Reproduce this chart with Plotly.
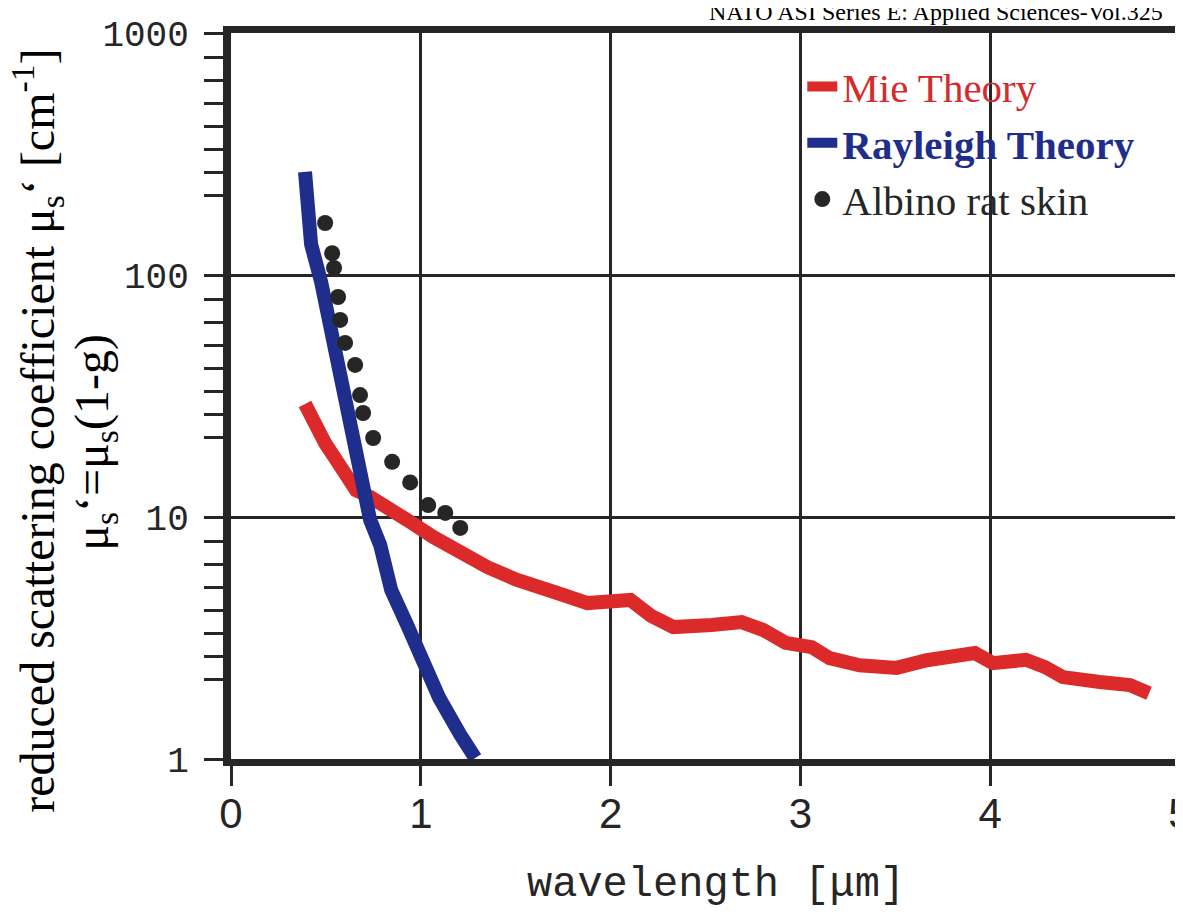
import plotly.graph_objects as go

# ---- data ----
mie_wavelength = [0.390, 0.443, 0.496, 0.559, 0.617, 0.659, 0.733, 0.812, 0.928, 1.065, 1.192,
                  1.350, 1.508, 1.630, 1.751, 1.878, 2.015, 2.104, 2.215, 2.331, 2.532, 2.690,
                  2.806, 2.922, 3.059, 3.154, 3.312, 3.507, 3.666, 3.819, 3.919, 4.014, 4.114,
                  4.188, 4.288, 4.383, 4.578, 4.736, 4.837]
mie_mus = [29.3, 24.0, 20.2, 17.0, 14.5, 12.9, 12.1, 11.2, 9.72, 8.27, 7.17,
           6.21, 5.49, 5.19, 4.76, 4.41, 4.41, 4.54, 3.90, 3.51, 3.58, 3.68,
           3.41, 3.02, 2.90, 2.61, 2.44, 2.38, 2.56, 2.69, 2.74, 2.49, 2.49,
           2.57, 2.40, 2.18, 2.08, 2.02, 1.87]

rayleigh_wavelength = [0.390, 0.401, 0.422, 0.475, 0.527, 0.570, 0.633, 0.691, 0.733, 0.786,
                       0.844, 0.928, 1.002, 1.097, 1.208, 1.287]
rayleigh_mus = [266.6, 182, 134, 93.5, 59.3, 35.5, 22.9, 13.7, 9.72, 7.66,
                4.99, 3.58, 2.57, 1.79, 1.26, 1.01]

skin_wavelength = [0.496, 0.533, 0.543, 0.564, 0.575, 0.601, 0.654, 0.680, 0.696, 0.749,
                   0.849, 0.944, 1.039, 1.129, 1.208]
skin_mus = [164, 123, 107, 81.1, 65.2, 52.4, 42.5, 31.9, 26.9, 21.2,
            16.9, 13.9, 11.2, 10.4, 9.01]

x_tick_vals = [0, 1, 2, 3, 4, 5]
x_tick_text = ["0", "1", "2", "3", "4", "5"]
y_tick_vals = [1, 10, 100, 1000]
y_tick_text = ["1", "10", "100", "1000"]
y_minor_vals = [2.14, 2.66, 3.31, 4.12, 5.13, 6.38, 7.94,
                21.4, 26.6, 33.1, 41.2, 51.3, 63.8, 79.4,
                214, 266, 331, 412, 513, 638, 794]

INK = "#262626"
RED = "#dc2a2a"
NAVY = "#1f2d8c"

fig = go.Figure()
fig.add_trace(go.Scatter(
    x=mie_wavelength, y=mie_mus, mode="lines",
    line=dict(color=RED, width=14),
    name="<span style='color:#d42b2b'>Mie Theory</span>",
    legendgroup="a"))
fig.add_trace(go.Scatter(
    x=rayleigh_wavelength, y=rayleigh_mus, mode="lines",
    line=dict(color=NAVY, width=14),
    name="<span style='color:#1f2d8c'><b>Rayleigh Theory</b></span>",
    legendgroup="b"))
fig.add_trace(go.Scatter(
    x=skin_wavelength, y=skin_mus, mode="markers",
    marker=dict(color=INK, size=16, symbol="circle"),
    name="<span style='color:#262626'>Albino rat skin</span>",
    legendgroup="c"))

# the page body has an 8 px default margin: the figure is sized/margined so the
# plot area lands at x 231..1180, y 33..759 of the window
fig.update_layout(
    width=1175, height=913,
    margin=dict(l=223, r=3, t=25, b=162),
    paper_bgcolor="white", plot_bgcolor="white",
    showlegend=True,
    legend=dict(x=0.602, y=0.972, xanchor="left", yanchor="top",
                bgcolor="rgba(255,255,255,0)",
                font=dict(family="Liberation Serif", size=41, color=INK),
                tracegroupgap=0, itemwidth=30),
    xaxis=dict(range=[0, 5], tickvals=x_tick_vals, ticktext=x_tick_text,
               automargin=False, ticklabeloverflow="allow",
               showgrid=True, gridcolor=INK, gridwidth=3,
               showline=True, linecolor=INK, linewidth=7, mirror=True,
               ticks="outside", ticklen=20, tickwidth=3, tickcolor=INK,
               tickfont=dict(family="Liberation Sans Narrow, Liberation Sans", size=42, color=INK),
               ticklabelstandoff=-8, zeroline=False),
    yaxis=dict(type="log", range=[0, 3], tickvals=y_tick_vals, ticktext=y_tick_text,
               automargin=False, ticklabeloverflow="allow",
               showgrid=True, gridcolor=INK, gridwidth=3,
               showline=True, linecolor=INK, linewidth=8, mirror=True,
               ticks="outside", ticklen=19, tickwidth=3, tickcolor=INK,
               tickfont=dict(family="Liberation Mono", size=36, color=INK),
               ticklabelstandoff=8,
               minor=dict(tickvals=y_minor_vals, ticks="outside", ticklen=19,
                          tickwidth=3, tickcolor=INK, showgrid=False)),
    annotations=[
        dict(text="reduced scattering coefficient μ<sub>s</sub>‘ [cm<sup>-1</sup>]",
             xref="paper", yref="paper", x=-0.2035, y=0.452, textangle=-90,
             xanchor="center", yanchor="middle", showarrow=False,
             font=dict(family="Liberation Serif", size=48, color="black")),
        dict(text="μ<sub>s</sub>‘=μ<sub>s</sub>(1-g)",
             xref="paper", yref="paper", x=-0.143, y=0.436, textangle=-90,
             xanchor="center", yanchor="middle", showarrow=False,
             font=dict(family="Liberation Serif", size=48, color="black")),
        dict(text="wavelength [μm]",
             xref="paper", yref="paper", x=0.511, y=-0.1736,
             xanchor="center", yanchor="middle", showarrow=False,
             font=dict(family="Liberation Mono", size=42, color=INK)),
        dict(text="NATO ASI Series E: Applied Sciences-Vol.325",
             xref="paper", yref="paper", x=0.984, y=1.029,
             xanchor="right", yanchor="middle", showarrow=False,
             font=dict(family="Liberation Serif", size=24, color="black")),
    ],
)

fig.write_html("out.html")
